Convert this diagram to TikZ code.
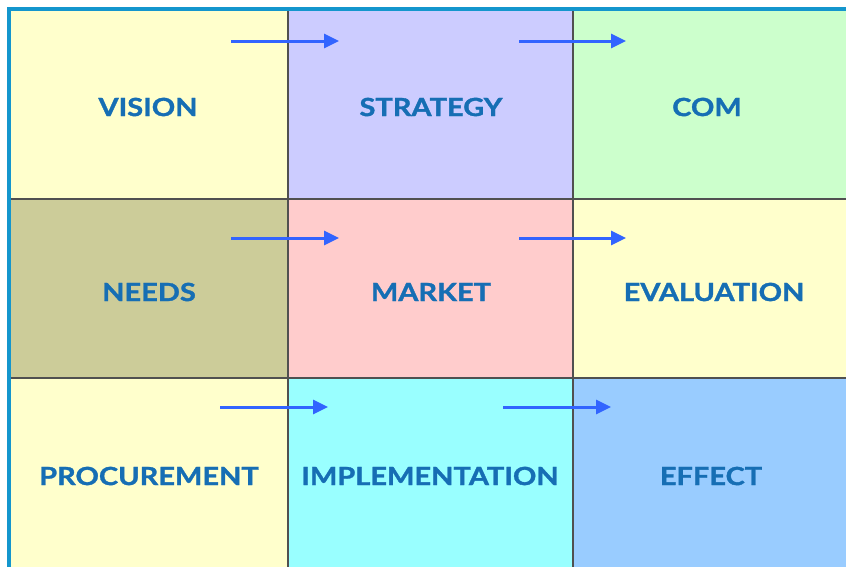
\documentclass[tikz,border=0pt]{standalone}
\usepackage{fontspec}
\setmainfont{Lato}[FakeStretch=1.16,BoldFeatures={FakeBold=1.3}]
\usetikzlibrary{arrows.meta}
\definecolor{cYel}{HTML}{FFFFCC}
\definecolor{cLav}{HTML}{CCCCFF}
\definecolor{cGrn}{HTML}{CCFFCC}
\definecolor{cOlv}{HTML}{CCCC99}
\definecolor{cPnk}{HTML}{FFCCCC}
\definecolor{cCyn}{HTML}{99FFFF}
\definecolor{cBlu}{HTML}{99CCFF}
\definecolor{txt}{RGB}{22,110,180}
\definecolor{bord}{RGB}{20,150,205}
\definecolor{arr}{RGB}{50,100,255}
\definecolor{gridc}{RGB}{80,80,80}
\begin{document}
\begin{tikzpicture}[x=1pt,y=-1pt,
  cell/.style={draw=gridc,line width=1.6pt},
  lbl/.style={text=txt,font=\fontsize{25}{25}\selectfont\bfseries,inner sep=0pt},
  flow/.style={draw=arr,line width=3pt,-{Triangle[length=15pt,width=14pt]}}]
\useasboundingbox (0,0) rectangle (846,566);
\begin{scope}
\clip (0,0) rectangle (846,566);
\fill[white] (0,0) rectangle (846,566);
\fill[cYel] (9,9) rectangle (288,199);
\fill[cLav] (288,9) rectangle (573,199);
\fill[cGrn] (573,9) rectangle (900,199);
\fill[cOlv] (9,199) rectangle (288,378);
\fill[cPnk] (288,199) rectangle (573,378);
\fill[cYel] (573,199) rectangle (900,378);
\fill[cYel] (9,378) rectangle (288,600);
\fill[cCyn] (288,378) rectangle (573,600);
\fill[cBlu] (573,378) rectangle (900,600);
\draw[cell] (288,9) -- (288,600);
\draw[cell] (573,9) -- (573,600);
\draw[cell] (9,199) -- (900,199);
\draw[cell] (9,378) -- (900,378);
\draw[bord,line width=4pt] (9,600) -- (9,9) -- (900,9);
\end{scope}
\node[lbl] (vision) at (148,107) {VISION};
\node[lbl] (strategy) at (431,107) {STRATEGY};
\node[lbl] (com) at (707,107) {COM};
\node[lbl] (needs) at (149,292) {NEEDS};
\node[lbl] (market) at (431,292) {MARKET};
\node[lbl] (evaluation) at (714,292) {EVALUATION};
\node[lbl] (procurement) at (149,476) {PROCUREMENT};
\node[lbl] (implementation) at (430,476) {IMPLEMENTATION};
\node[lbl] (effect) at (711,476) {EFFECT};
\coordinate (a1s) at (231,41); \coordinate (a1e) at (339,41);
\coordinate (a2s) at (519,41); \coordinate (a2e) at (626,41);
\coordinate (a3s) at (231,238); \coordinate (a3e) at (339,238);
\coordinate (a4s) at (519,238); \coordinate (a4e) at (626,238);
\coordinate (a5s) at (220,407); \coordinate (a5e) at (328,407);
\coordinate (a6s) at (503,407); \coordinate (a6e) at (611,407);
\draw[flow] (a1s) -- (a1e);
\draw[flow] (a2s) -- (a2e);
\draw[flow] (a3s) -- (a3e);
\draw[flow] (a4s) -- (a4e);
\draw[flow] (a5s) -- (a5e);
\draw[flow] (a6s) -- (a6e);
\end{tikzpicture}
\end{document}
